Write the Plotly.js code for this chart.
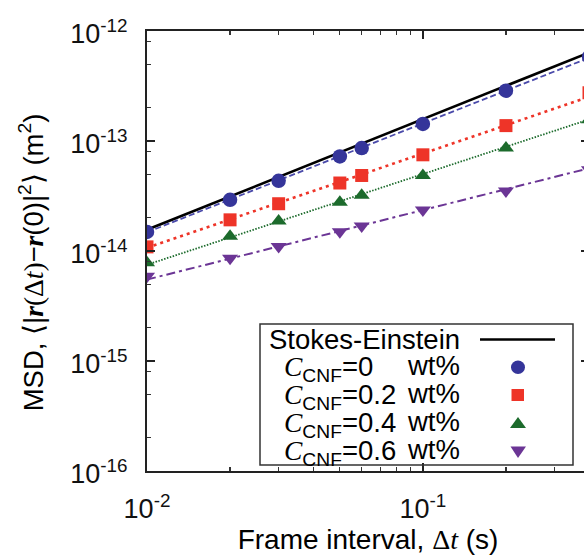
<!DOCTYPE html>
<html>
<head>
<meta charset="utf-8">
<script src="https://cdn.plot.ly/plotly-3.0.1.min.js"></script>
<style>
html, body { margin: 0; padding: 0; overflow: hidden; background: #fff; }
#chart { width: 592px; height: 555px; }
</style>
</head>
<body>
<div id="chart"></div>
<script>
// ---- data ----
const frameInterval = [0.01, 0.02, 0.03, 0.05, 0.06, 0.1, 0.2, 0.4];
const msdCNF0  = [1.49e-14, 2.92e-14, 4.35e-14, 7.23e-14, 8.62e-14, 1.43e-13, 2.87e-13, 5.82e-13];
const msdCNF02 = [1.09e-14, 1.92e-14, 2.69e-14, 4.15e-14, 4.86e-14, 7.49e-14, 1.38e-13, 2.74e-13];
const msdCNF04 = [7.83e-15, 1.36e-14, 1.87e-14, 2.78e-14, 3.21e-14, 4.85e-14, 8.64e-14, 1.56e-13];
const msdCNF06 = [5.9e-15, 8.6e-15, 1.10e-14, 1.50e-14, 1.69e-14, 2.36e-14, 3.52e-14, 5.47e-14];

const fitInterval = [0.01, 0.4];
const stokesEinstein = [1.56e-14, 6.37e-13];
const fitCNF0  = [1.48e-14, 5.70e-13];
const fitCNF02 = [1.07e-14, 2.52e-13];
const fitCNF04 = [7.5e-15, 1.57e-13];
const fitCNF06 = [5.5e-15, 5.65e-14];

const seriesNames = ['C_CNF=0 wt%', 'C_CNF=0.2 wt%', 'C_CNF=0.4 wt%', 'C_CNF=0.6 wt%'];
const legendValues = ['0', '0.2', '0.4', '0.6'];

const xTickVals = [0.01, 0.1];
const xTickText = ['10<sup>-2</sup>', '10<sup>-1</sup>'];
const xMinorVals = [0.02, 0.03, 0.04, 0.05, 0.06, 0.07, 0.08, 0.09, 0.2, 0.3];
const yTickVals = [1e-16, 1e-15, 1e-14, 1e-13, 1e-12];
const yTickText = ['10<sup>-16</sup>', '10<sup>-15</sup>', '10<sup>-14</sup>', '10<sup>-13</sup>', '10<sup>-12</sup>'];
const yMinorVals = [2e-16, 5e-16, 8e-16, 2e-15, 5e-15, 8e-15, 2e-14, 5e-14, 8e-14, 2e-13, 5e-13, 8e-13];

// ---- styles ----
const BLUE = '#35359a', RED = '#ee3428', GREEN = '#1c6b2c', PURPLE = '#6b3595';
const SANS = 'Liberation Sans, Arial, sans-serif';
const SERIF = 'Liberation Serif';

const traces = [
  {x: fitInterval, y: stokesEinstein, mode: 'lines', name: 'Stokes-Einstein', line: {color: '#000', width: 2.6}},
  {x: fitInterval, y: fitCNF0, mode: 'lines', name: 'fit 0 wt%', line: {color: '#4a4aaa', width: 1.8, dash: '6px,3px'}},
  {x: fitInterval, y: fitCNF02, mode: 'lines', name: 'fit 0.2 wt%', line: {color: RED, width: 2.6, dash: '3px,4px'}},
  {x: fitInterval, y: fitCNF04, mode: 'lines', name: 'fit 0.4 wt%', line: {color: GREEN, width: 1.8, dash: '1.5px,1.5px'}},
  {x: fitInterval, y: fitCNF06, mode: 'lines', name: 'fit 0.6 wt%', line: {color: PURPLE, width: 2, dash: '9px,4px,3px,4px'}},
  {x: frameInterval, y: msdCNF0, mode: 'markers', name: seriesNames[0], marker: {symbol: 'circle', size: 14.5, color: BLUE}},
  {x: frameInterval, y: msdCNF02, mode: 'markers', name: seriesNames[1], marker: {symbol: 'square', size: 13, color: RED}},
  {x: frameInterval, y: msdCNF04, mode: 'markers', name: seriesNames[2], marker: {symbol: 'triangle-up', size: 14, color: GREEN}},
  {x: frameInterval, y: msdCNF06, mode: 'markers', name: seriesNames[3], marker: {symbol: 'triangle-down', size: 14, color: PURPLE}}
];
traces.forEach(t => { t.showlegend = false; });

// legend placement helpers (pixel -> paper)
const L = 147, T = 31, W = 442, H = 440;
const px = p => (p - L) / W;
const py = p => (T + H - p) / H;

const shapes = [
  {type: 'rect', xref: 'paper', yref: 'paper', x0: px(260), x1: px(573), y0: py(324), y1: py(465),
   line: {color: '#333', width: 1.5}, fillcolor: 'rgba(0,0,0,0)'},
  {type: 'line', xref: 'paper', yref: 'paper', x0: px(480), x1: px(555), y0: py(339.5), y1: py(339.5),
   line: {color: '#000', width: 2.6}},
  {type: 'circle', xref: 'paper', yref: 'paper', x0: px(511), x1: px(525), y0: py(374), y1: py(360.5),
   fillcolor: BLUE, line: {width: 0}},
  {type: 'rect', xref: 'paper', yref: 'paper', x0: px(511.5), x1: px(524), y0: py(401), y1: py(389),
   fillcolor: RED, line: {width: 0}},
  {type: 'path', xref: 'paper', yref: 'paper',
   path: `M${px(510)},${py(428)} L${px(526)},${py(428)} L${px(518)},${py(417)} Z`,
   fillcolor: GREEN, line: {width: 0}},
  {type: 'path', xref: 'paper', yref: 'paper',
   path: `M${px(510.5)},${py(446.5)} L${px(526)},${py(446.5)} L${px(518)},${py(458)} Z`,
   fillcolor: PURPLE, line: {width: 0}}
];

const legendFont = {family: SANS, size: 27.5, color: '#000'};
const annotations = [
  {xref: 'paper', yref: 'paper', x: px(267), y: py(339), xanchor: 'left', yanchor: 'middle',
   text: 'Stokes-Einstein', showarrow: false, font: legendFont}
];
const rowY = [365, 393, 421, 449];
legendValues.forEach((v, i) => {
  annotations.push({xref: 'paper', yref: 'paper', x: px(282), y: py(rowY[i] + 3), xanchor: 'left', yanchor: 'middle',
    text: `<span style="font-family:${SERIF}"><i>C</i></span><sub>CNF</sub>=${v}`, showarrow: false, font: legendFont});
  annotations.push({xref: 'paper', yref: 'paper', x: px(462), y: py(rowY[i]), xanchor: 'right', yanchor: 'middle',
    text: 'wt%', showarrow: false, font: legendFont});
});

const axisCommon = {
  type: 'log', showgrid: false, zeroline: false, showline: true, linewidth: 2, linecolor: '#222',
  mirror: 'ticks', ticks: 'inside', ticklen: 8, tickwidth: 1.5, tickcolor: '#222',
  tickmode: 'array', tickfont: {family: SANS, size: 27, color: '#111'}, automargin: false
};

const layout = {
  width: 592, height: 555,
  margin: {l: L, r: 592 - L - W, t: T, b: 555 - T - H},
  paper_bgcolor: '#fff', plot_bgcolor: '#fff',
  showlegend: false,
  xaxis: Object.assign({}, axisCommon, {
    range: [Math.log10(0.01), Math.log10(0.4)],
    tickvals: xTickVals, ticktext: xTickText, ticklabelstandoff: 13,
    minor: {tickmode: 'array', tickvals: xMinorVals, ticks: 'inside', ticklen: 4, tickwidth: 1.2, tickcolor: '#333', showgrid: false},
    title: {text: `Frame interval, <span style="font-family:${SERIF}">Δ<i>t</i></span> (s)`,
            font: {family: SANS, size: 28, color: '#000'}, standoff: 13}
  }),
  yaxis: Object.assign({}, axisCommon, {
    range: [-16, -12],
    tickvals: yTickVals, ticktext: yTickText, ticklabelstandoff: 12, ticklabelshift: 3,
    minor: {tickmode: 'array', tickvals: yMinorVals, ticks: 'inside', ticklen: 3.5, tickwidth: 1.2, tickcolor: '#333', showgrid: false},
    title: {text: `MSD, ⟨|<span style="font-family:${SERIF}"><b><i>r</i></b>(Δ<i>t</i>)</span>−<span style="font-family:${SERIF}"><b><i>r</i></b></span>(0)|<sup>2</sup>⟩ (m<sup>2</sup>)<span>\u00a0\u00a0\u00a0</span>`,
            font: {family: SANS, size: 27.5, color: '#000'}, standoff: 19}
  }),
  shapes: shapes,
  annotations: annotations
};

Plotly.newPlot('chart', traces, layout, {staticPlot: true, displayModeBar: false});
</script>
</body>
</html>
